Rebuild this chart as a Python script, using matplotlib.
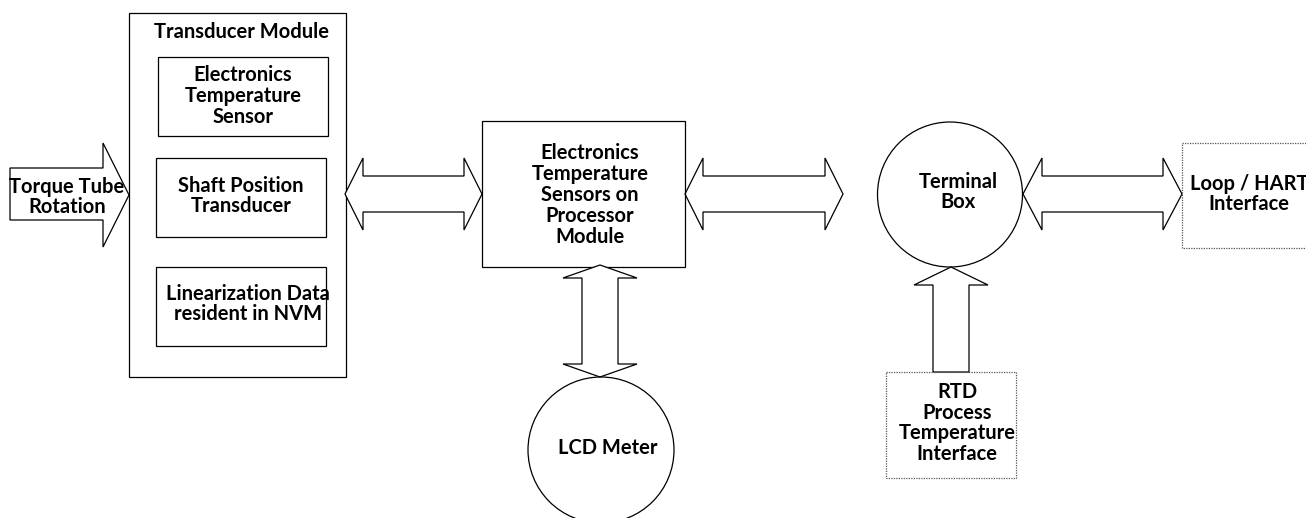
import matplotlib
matplotlib.use("Agg")
import matplotlib.pyplot as plt
from matplotlib.patches import Rectangle, Circle, Polygon

plt.rcParams["font.family"] = ["Lato", "DejaVu Sans"]

W, H = 1306, 518

# labels
module_title = "Transducer Module"
module_parts = [
    "Electronics\nTemperature\nSensor",
    "Shaft Position\nTransducer",
    "Linearization Data\nresident in NVM",
]
input_label = "Torque Tube\nRotation"
processor_label = "Electronics\nTemperature\nSensors on\nProcessor\nModule"
terminal_label = "Terminal\nBox"
loop_label = "Loop / HART\nInterface"
rtd_label = "RTD\nProcess\nTemperature\nInterface"
lcd_label = "LCD Meter"

# layout, pixel coordinates (x, y from top-left)
part_boxes = [(158, 57, 328, 136), (156, 158, 326, 237), (156, 267, 326, 346)]
part_text = [(243, 96), (241, 196), (248, 304)]

LW = 0.9


def box(ax, x0, y0, x1, y1, ls="-", color="black"):
    ax.add_patch(Rectangle((x0, y0), x1 - x0, y1 - y0, fill=False,
                           ec=color, lw=LW, ls=ls))


def label(ax, x, y, s, size=14.5):
    ax.text(x, y, s, ha="center", va="center", fontsize=size,
            fontweight="bold", linespacing=1.05)


def harrow2(ax, x0, x1, yc, sh, hh, hl):
    pts = [(x0, yc), (x0 + hl, yc - hh), (x0 + hl, yc - sh), (x1 - hl, yc - sh),
           (x1 - hl, yc - hh), (x1, yc), (x1 - hl, yc + hh), (x1 - hl, yc + sh),
           (x0 + hl, yc + sh), (x0 + hl, yc + hh)]
    ax.add_patch(Polygon(pts, closed=True, fc="white", ec="black", lw=LW))


def varrow2(ax, y0, y1, xc, sh, hh, hl):
    pts = [(xc, y0), (xc + hh, y0 + hl), (xc + sh, y0 + hl), (xc + sh, y1 - hl),
           (xc + hh, y1 - hl), (xc, y1), (xc - hh, y1 - hl), (xc - sh, y1 - hl),
           (xc - sh, y0 + hl), (xc - hh, y0 + hl)]
    ax.add_patch(Polygon(pts, closed=True, fc="white", ec="black", lw=LW))


fig = plt.figure(figsize=(W / 100, H / 100), dpi=100)
ax = fig.add_axes([0, 0, 1, 1])
ax.set_xlim(0, W)
ax.set_ylim(H, 0)
ax.axis("off")

# transducer module
box(ax, 129, 13, 346, 377)
label(ax, 242, 32, module_title)
for (x0, y0, x1, y1), (tx, ty), s in zip(part_boxes, part_text, module_parts):
    box(ax, x0, y0, x1, y1)
    label(ax, tx, ty, s)

# torque tube input arrow
pts = [(10, 168), (103, 168), (103, 143), (129, 195), (103, 247), (103, 220), (10, 220)]
ax.add_patch(Polygon(pts, closed=True, fc="white", ec="black", lw=LW))
label(ax, 67, 197, input_label)

# links
harrow2(ax, 345, 482, 194, 18, 36, 18)
harrow2(ax, 685, 843, 194, 18, 36, 18)
harrow2(ax, 1023, 1182, 194, 18, 36, 19)

# processor module
box(ax, 482, 121, 685, 267)
label(ax, 590, 195, processor_label)

# terminal box
ax.add_patch(Circle((950, 194.5), 72.5, fill=False, ec="black", lw=LW))
label(ax, 958, 192, terminal_label)

# loop / hart
box(ax, 1182, 143, 1320, 248, ls=(0, (1, 1)), color="#555555")
label(ax, 1249, 194, loop_label)

# rtd arrow and box
pts = [(951, 267), (988, 285), (969, 285), (969, 372), (933, 372), (933, 285), (914, 285)]
ax.add_patch(Polygon(pts, closed=True, fc="white", ec="black", lw=LW))
box(ax, 886, 372, 1016, 478, ls=(0, (1, 1)), color="#555555")
label(ax, 957, 423, rtd_label)

# lcd meter
varrow2(ax, 265, 377, 600, 18, 37, 13)
ax.add_patch(Circle((601, 450), 73, fill=False, ec="black", lw=LW))
label(ax, 608, 448, lcd_label)

fig.savefig("out.png", dpi=100)
